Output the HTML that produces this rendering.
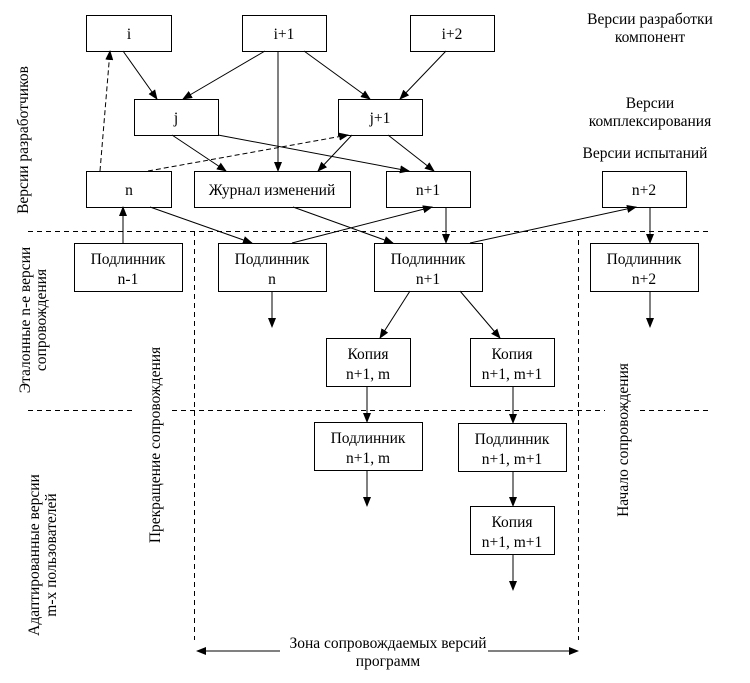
<!DOCTYPE html>
<html><head><meta charset="utf-8"><style>
html,body{margin:0;padding:0;background:#fff;}
text{font-family:"Liberation Serif","Times New Roman",serif;font-size:15.5px;fill:#000;}
</style></head><body>
<svg width="750" height="678" viewBox="0 0 750 678" xmlns="http://www.w3.org/2000/svg">
<defs><marker id="a" markerWidth="10" markerHeight="8" refX="9" refY="4" orient="auto" markerUnits="userSpaceOnUse"><path d="M0,0 L10,4 L0,8 z" fill="#000"/></marker></defs>
<g fill="#fff" stroke="#000" stroke-width="1">
<rect x="86.5" y="15.5" width="85" height="36"/>
<rect x="242.5" y="15.5" width="84" height="36"/>
<rect x="410.5" y="15.5" width="84" height="36"/>
<rect x="134.5" y="99.5" width="84" height="36"/>
<rect x="338.5" y="99.5" width="84" height="36"/>
<rect x="86.5" y="171.5" width="85" height="36"/>
<rect x="194.5" y="171.5" width="156" height="36"/>
<rect x="386.5" y="171.5" width="84" height="36"/>
<rect x="602.5" y="171.5" width="84" height="36"/>
<rect x="74.5" y="243.5" width="108" height="48"/>
<rect x="218.5" y="243.5" width="108" height="48"/>
<rect x="374.5" y="243.5" width="108" height="48"/>
<rect x="590.5" y="243.5" width="108" height="48"/>
<rect x="326.5" y="338.5" width="84" height="48"/>
<rect x="470.5" y="338.5" width="84" height="48"/>
<rect x="314.5" y="422.5" width="108" height="48"/>
<rect x="458.5" y="423.5" width="108" height="48"/>
<rect x="470.5" y="506.5" width="84" height="48"/>
</g>
<g stroke="#000" stroke-width="1" fill="none" marker-end="url(#a)">
<line x1="123" y1="51" x2="157" y2="99"/>
<line x1="265" y1="51" x2="183" y2="99"/>
<line x1="278" y1="51" x2="278" y2="171"/>
<line x1="304" y1="51" x2="370" y2="99"/>
<line x1="446" y1="51" x2="400" y2="99"/>
<line x1="172" y1="135" x2="226" y2="171"/>
<line x1="218" y1="135" x2="409" y2="171"/>
<line x1="352" y1="135" x2="318" y2="171"/>
<line x1="388" y1="135" x2="434" y2="171"/>
<line x1="123" y1="243" x2="123" y2="207"/>
<line x1="150" y1="207" x2="252" y2="243"/>
<line x1="293" y1="207" x2="393" y2="243"/>
<line x1="292" y1="243" x2="432" y2="207"/>
<line x1="446" y1="207" x2="446" y2="243"/>
<line x1="470" y1="243" x2="636" y2="207"/>
<line x1="650" y1="207" x2="650" y2="243"/>
<line x1="272" y1="291" x2="272" y2="327"/>
<line x1="650" y1="291" x2="650" y2="327"/>
<line x1="410" y1="291" x2="380" y2="338"/>
<line x1="460" y1="291" x2="500" y2="338"/>
<line x1="367" y1="386" x2="367" y2="422"/>
<line x1="513" y1="386" x2="513" y2="423"/>
<line x1="367" y1="470" x2="367" y2="506"/>
<line x1="513" y1="471" x2="513" y2="506"/>
<line x1="513" y1="554" x2="513" y2="590"/>
<line x1="280" y1="651" x2="197" y2="651"/>
<line x1="488" y1="651" x2="578" y2="651"/>
<line x1="100" y1="171" x2="110" y2="51" stroke-dasharray="5,3"/>
<line x1="148" y1="171" x2="348" y2="135" stroke-dasharray="5,3"/>
</g>
<g stroke="#000" stroke-width="1" stroke-dasharray="5,4" fill="none">
<line x1="28" y1="231.5" x2="710" y2="231.5"/>
<line x1="28" y1="410.5" x2="135" y2="410.5"/>
<line x1="172" y1="410.5" x2="605" y2="410.5"/>
<line x1="640" y1="410.5" x2="710" y2="410.5"/>
<line x1="194.5" y1="231" x2="194.5" y2="640"/>
<line x1="578.5" y1="231" x2="578.5" y2="640"/>
</g>
<g text-anchor="middle">
<text x="129" y="39">i</text>
<text x="284" y="39">i+1</text>
<text x="452" y="39">i+2</text>
<text x="176" y="123">j</text>
<text x="380" y="123">j+1</text>
<text x="129" y="195">n</text>
<text x="272" y="195">Журнал изменений</text>
<text x="428" y="195">n+1</text>
<text x="644" y="195">n+2</text>
<text x="128" y="264">Подлинник</text><text x="128" y="284">n-1</text>
<text x="272" y="264">Подлинник</text><text x="272" y="284">n</text>
<text x="428" y="264">Подлинник</text><text x="428" y="284">n+1</text>
<text x="644" y="264">Подлинник</text><text x="644" y="284">n+2</text>
<text x="368" y="359">Копия</text><text x="368" y="379">n+1, m</text>
<text x="512" y="359">Копия</text><text x="512" y="379">n+1, m+1</text>
<text x="368" y="443">Подлинник</text><text x="368" y="463">n+1, m</text>
<text x="512" y="444">Подлинник</text><text x="512" y="464">n+1, m+1</text>
<text x="512" y="527">Копия</text><text x="512" y="547">n+1, m+1</text>
<text x="650" y="24">Версии разработки</text><text x="650" y="42">компонент</text>
<text x="650" y="108">Версии</text><text x="650" y="126">комплексирования</text>
<text x="645" y="158">Версии испытаний</text>
<text x="388" y="648">Зона сопровождаемых версий</text>
<text x="388" y="666">программ</text>
<text transform="translate(28,140) rotate(-90)">Версии разработчиков</text>
<text transform="translate(30,320) rotate(-90)">Эталонные n-е версии</text>
<text transform="translate(46,320) rotate(-90)">сопровождения</text>
<text transform="translate(39,555) rotate(-90)">Адаптированные версии</text>
<text transform="translate(56,555) rotate(-90)">m-х пользователей</text>
<text transform="translate(160,445) rotate(-90)">Прекращение сопровождения</text>
<text transform="translate(628,440) rotate(-90)">Начало сопровождения</text>
</g>
</svg>
</body></html>
